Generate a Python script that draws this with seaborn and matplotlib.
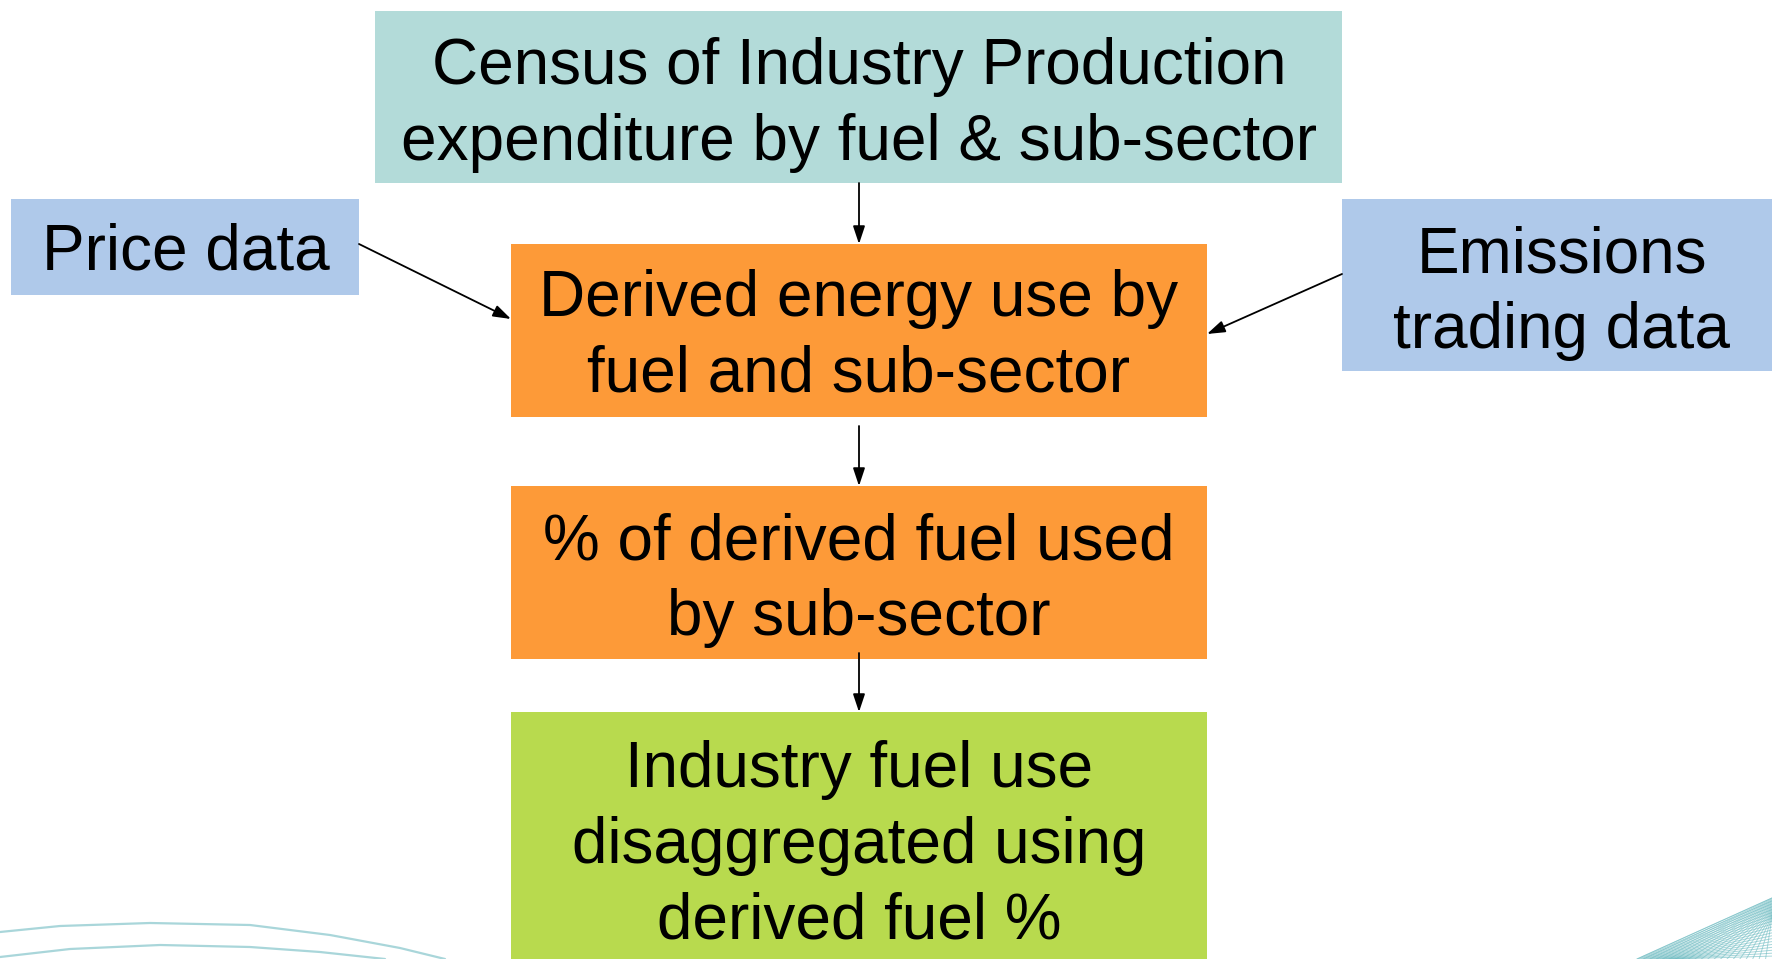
import numpy as np
import matplotlib.pyplot as plt
import seaborn as sns
from matplotlib.patches import Rectangle

# Textos de las cajas del diagrama
labels = [
    "Census of Industry Production\nexpenditure by fuel & sub-sector",
    "Price data",
    "Emissions\ntrading data",
    "Derived energy use by\nfuel and sub-sector",
    "% of derived fuel used\nby sub-sector",
    "Industry fuel use\ndisaggregated using\nderived fuel %",
]
box_colors = ["#b3dbd9", "#afc9ea", "#afc9ea", "#fd9a38", "#fd9a38", "#b8da4e"]

# Cajas (x0, y0, x1, y1) en pixeles de la figura
boxes = [
    (375, 11, 1342, 183),
    (11, 199, 359, 295),
    (1342, 199, 1772, 371),
    (511, 244, 1207, 417),
    (511, 486, 1207, 659),
    (511, 712, 1207, 970),
]
text_centers = [(859, 105), (186, 253), (1562, 293), (859, 337), (859, 580), (859, 846)]

# Flechas (inicio -> fin)
arrows = [
    ((859, 183), (859, 244)),
    ((359, 244), (511, 319)),
    ((1342, 274), (1207, 334)),
    ((859, 426), (859, 486)),
    ((859, 653), (859, 712)),
]

# Curvas decorativas abajo a la izquierda
arc_top_x = [0, 60, 150, 250, 330, 400, 445]
arc_top_y = [932, 926, 923, 925, 935, 948, 959]
arc_low_x = [0, 70, 160, 250, 320, 385]
arc_low_y = [957, 949, 945, 947, 952, 959]

sns.set_theme(style="white")
plt.rcParams['font.family'] = ['Liberation Sans', 'DejaVu Sans']

fig = plt.figure(figsize=(17.72, 9.59), dpi=100)
ax = fig.add_axes([0, 0, 1, 1])
ax.set_xlim(0, 1772)
ax.set_ylim(959, 0)
ax.axis('off')

# Decoracion: arcos
sns.lineplot(x=arc_top_x, y=arc_top_y, ax=ax, color="#a9d6da", lw=1.6, sort=False)
sns.lineplot(x=arc_low_x, y=arc_low_y, ax=ax, color="#a9d6da", lw=1.6, sort=False)

# Decoracion: malla abajo a la derecha
for i in range(22):
    t = i / 21
    ax.plot([1637 + 135 * t * 0.3, 1772], [959, 898 + 61 * t], color="#6fbcc2", lw=0.7, alpha=0.6)
    ax.plot([1637 + 135 * t, 1772], [959, 898 + 20 * t], color="#6fbcc2", lw=0.7, alpha=0.6)

# Cajas y textos
for (x0, y0, x1, y1), col, lab, (cx, cy) in zip(boxes, box_colors, labels, text_centers):
    ax.add_patch(Rectangle((x0, y0), x1 - x0, y1 - y0, facecolor=col, edgecolor='none', zorder=2))
    ax.text(cx, cy, lab, ha='center', va='center', fontsize=46, color='black',
            linespacing=1.34, zorder=3)

# Flechas
for (p0, p1) in arrows:
    ax.annotate("", xy=p1, xytext=p0, zorder=4,
                arrowprops=dict(arrowstyle="-|>,head_length=0.9,head_width=0.3",
                                color='black', lw=1.3, shrinkA=0, shrinkB=0))

plt.savefig('out.png', dpi=100)
